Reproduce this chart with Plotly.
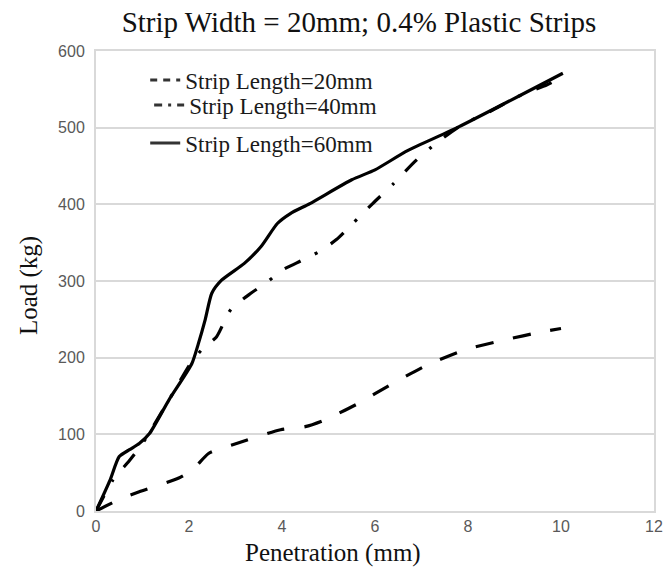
import plotly.graph_objects as go

# ---- data ----
x_20 = [0, 0.5, 0.93, 1.78, 2.1, 2.42, 3.12, 3.97, 4.5, 4.89, 5.63, 6.37, 7.11, 7.92, 8.77, 9.62, 10.0]
y_20 = [0, 15, 25, 43, 55, 75, 90, 106, 110, 118, 140, 166, 190, 210, 223, 234, 238]

x_40 = [0, 0.36, 0.72, 1.0, 1.57, 2.06, 2.3, 2.59, 2.9, 3.33, 3.69, 4.0, 4.43, 4.82, 5.17, 5.49,
        5.95, 6.4, 6.86, 7.32, 7.85, 8.5, 9.05, 9.7, 10.0]
y_40 = [0, 40, 66, 88, 145, 195, 212, 227, 263, 284, 299, 314, 327, 339, 354, 373,
        401, 427, 456, 480, 503, 522, 540, 556, 565]

x_60 = [0, 0.3, 0.5, 0.72, 0.93, 1.15, 1.57, 2.06, 2.2, 2.35, 2.49, 2.7, 3.19, 3.55, 3.9, 4.18,
        4.6, 5.5, 6.0, 6.7, 7.8, 10.04]
y_60 = [0, 40, 71, 80, 88, 101, 145, 192, 218, 250, 284, 301, 323, 345, 375, 388,
        401, 432, 445, 470, 501, 571]

names = ["Strip Length=20mm", "Strip Length=40mm", "Strip Length=60mm"]
x_ticks = [0, 2, 4, 6, 8, 10, 12]
y_ticks = [0, 100, 200, 300, 400, 500, 600]

title_text = "Strip Width = 20mm; 0.4% Plastic Strips"
x_title = "Penetration (mm)"
y_title = "Load (kg)"

fig = go.Figure()

series = [
    (x_20, y_20, "18px,20px", "7px,6px", "legend"),
    (x_40, y_40, "17px,16px,3px,16px", "8px,6px,3px,6px", "legend2"),
    (x_60, y_60, "solid", "solid", "legend3"),
]

for (xs, ys, dash, ldash, lg), nm in zip(series, names):
    fig.add_trace(go.Scatter(
        x=xs, y=ys, mode="lines", showlegend=False,
        line=dict(color="black", width=3.2, dash=dash, shape="spline", smoothing=0.6),
        hoverinfo="skip",
    ))
    # legend entry
    fig.add_trace(go.Scatter(
        x=[None], y=[None], mode="lines", name=nm, legend=lg,
        line=dict(color="#333333", width=3, dash=ldash),
    ))

grid = "#d9d9d9"
tickfont = dict(family="Liberation Sans", size=16, color="#595959")
legfont = dict(family="Liberation Serif", size=23, color="#1a1a1a")


def leg(xpx, ypx):
    return dict(x=(xpx - 96) / 567, y=(511 - ypx) / 460, xanchor="left", yanchor="middle",
                bgcolor="rgba(0,0,0,0)", font=legfont)


fig.update_layout(
    width=671, height=574,
    margin=dict(l=96, r=8, t=51, b=63),
    paper_bgcolor="white", plot_bgcolor="white",
    title=dict(text=title_text, x=359 / 671, xanchor="center", y=1 - 22 / 574, yanchor="middle",
               font=dict(family="Liberation Serif", size=29, color="#111111")),
    legend=leg(146, 80),
    legend2=leg(150, 105),
    legend3=leg(146, 143),
    xaxis=dict(range=[0, 12], tickvals=x_ticks, ticktext=[str(v) for v in x_ticks],
               showgrid=False, zeroline=False, showline=True, linecolor=grid, linewidth=2,
               mirror=True, ticks="", tickfont=tickfont, fixedrange=True),
    yaxis=dict(range=[0, 600], tickvals=y_ticks, ticktext=[str(v) for v in y_ticks],
               showgrid=True, gridcolor=grid, gridwidth=2, zeroline=False,
               showline=True, linecolor=grid, linewidth=2, mirror=True, ticks="",
               tickfont=tickfont, ticklabelstandoff=6, fixedrange=True),
    annotations=[
        dict(text=x_title, xref="paper", yref="paper", x=(337 - 96) / 567, y=1 - (553 - 51) / 460,
             xanchor="center", yanchor="middle", showarrow=False,
             font=dict(family="Liberation Serif", size=25, color="#111111")),
        dict(text=y_title, xref="paper", yref="paper", x=(28 - 96) / 567, y=(511 - 286) / 460,
             xanchor="center", yanchor="middle", showarrow=False, textangle=-90,
             font=dict(family="Liberation Serif", size=25, color="#111111")),
    ],
)

fig.write_html("out.html")
